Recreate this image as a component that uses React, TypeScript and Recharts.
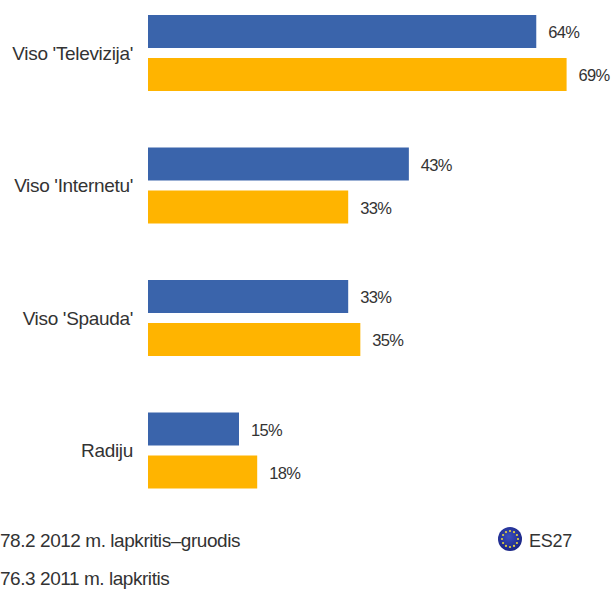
import { BarChart, Bar, XAxis, YAxis, LabelList } from 'recharts'

const categories = ["Viso 'Televizija'", "Viso 'Internetu'", "Viso 'Spauda'", 'Radiju']
const wave2012 = [64, 43, 33, 15]
const wave2011 = [69, 33, 35, 18]

const data = categories.map((name, i) => ({ name, wave2012: wave2012[i], wave2011: wave2011[i] }))

const textColor = '#333333'
const fontFamily = '"Liberation Sans", Arial, sans-serif'
const labelStyle = { fontSize: 16.5, fontFamily, fill: textColor, letterSpacing: '-0.7px' }
const legendStyle = { position: 'absolute', fontSize: 19, letterSpacing: '-0.45px', whiteSpace: 'nowrap' } as const

// EU flag stars, decorative only
const stars = Array.from({ length: 12 }, (_, i) => i * 30)

export default function App() {
  return (
    <div style={{ position: 'absolute', left: 0, top: 0, width: 611, height: 589, overflow: 'hidden', background: '#fff', fontFamily, color: textColor }}>
      <div style={{ position: 'absolute', left: 0, top: -29.7 }}>
        <BarChart
          width={611}
          height={560}
          data={data}
          layout="vertical"
          barSize={33}
          barGap={10}
          margin={{ top: 17, right: 8, bottom: 13, left: 0 }}
        >
          <XAxis type="number" domain={[0, 75]} hide />
          <YAxis
            type="category"
            dataKey="name"
            width={148}
            axisLine={false}
            tickLine={false}
            tickSize={0}
            tickMargin={15}
            tick={{ fontSize: 19, fontFamily, fill: textColor, letterSpacing: '-0.33px' }}
          />
          <Bar dataKey="wave2012" fill="#3A64AB" isAnimationActive={false}>
            <LabelList dataKey="wave2012" position="right" offset={12} dy={1} formatter={(v: number) => `${v}%`} style={labelStyle} />
          </Bar>
          <Bar dataKey="wave2011" fill="#FFB400" isAnimationActive={false}>
            <LabelList dataKey="wave2011" position="right" offset={12} dy={1} formatter={(v: number) => `${v}%`} style={labelStyle} />
          </Bar>
        </BarChart>
      </div>

      <div style={{ ...legendStyle, left: 0, top: 530 }}>78.2 2012 m. lapkritis–gruodis</div>
      <div style={{ ...legendStyle, left: 0, top: 568 }}>76.3 2011 m. lapkritis</div>

      <svg width={26} height={26} style={{ position: 'absolute', left: 497, top: 526 }}>
        <defs>
          <radialGradient id="flag" cx="45%" cy="40%" r="60%">
            <stop offset="0%" stopColor="#3b4fc0" />
            <stop offset="100%" stopColor="#1a2585" />
          </radialGradient>
        </defs>
        <circle cx={13} cy={13} r={12} fill="url(#flag)" />
        {stars.map((a) => (
          <circle key={a} cx={13 + 8 * Math.cos((a * Math.PI) / 180)} cy={13 + 8 * Math.sin((a * Math.PI) / 180)} r={1.1} fill="#e6d23a" />
        ))}
      </svg>
      <div style={{ ...legendStyle, left: 529, top: 531, fontSize: 18, letterSpacing: '-0.25px' }}>ES27</div>
    </div>
  )
}
